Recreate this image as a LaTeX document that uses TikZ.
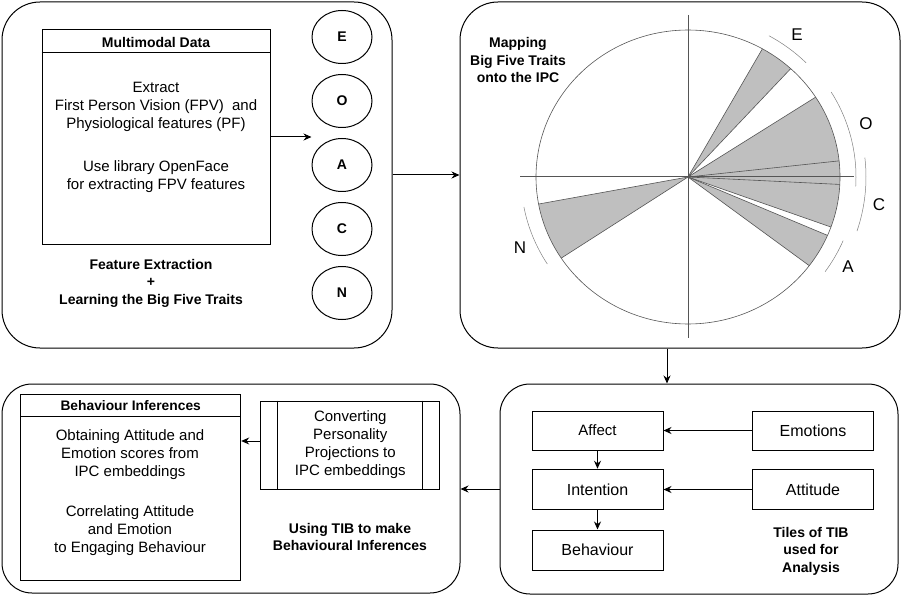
\documentclass[tikz,border=0pt]{standalone}
\usepackage{fontspec}
\setmainfont{Liberation Sans}
\usepackage{tikz}
\usetikzlibrary{arrows.meta, shapes.geometric}
\definecolor{wedgegray}{RGB}{191,191,191}
\definecolor{ipcline}{RGB}{85,85,85}

\begin{document}
\begin{tikzpicture}[x=1pt, y=-1pt, line width=1pt,
    panel/.style={draw, rounded corners=38pt, inner sep=0pt},
    lowpanel/.style={draw, rounded corners=30pt, inner sep=0pt},
    box/.style={draw, inner sep=0pt},
    trait/.style={draw, ellipse, minimum width=60pt, minimum height=53pt, inner sep=0pt, font=\bfseries\fontsize{14}{17}\selectfont},
    lbl/.style={align=center, font=\fontsize{15}{18}\selectfont},
    tiles/.style={box, font=\fontsize{16}{19}\selectfont},
    title/.style={align=center, font=\bfseries\fontsize{14}{17.5}\selectfont},
    ipclbl/.style={font=\fontsize{17}{20}\selectfont},
    arr/.style={-{Stealth[length=8pt,width=7pt]}}]
                \useasboundingbox (0,0) rectangle (902,596);
                \node[panel, minimum width=390pt, minimum height=346pt] (fe) at (197,175) {};
                \node[panel, minimum width=440pt, minimum height=346pt] (ipc) at (680,175) {};
                \node[lowpanel, minimum width=458pt, minimum height=209pt] (inf) at (231,488.5) {};
                \node[lowpanel, minimum width=398pt, minimum height=210pt] (tib) at (699,489) {};

                \node[box, lbl, minimum width=228pt, minimum height=214pt] (mmd) at (156,137) {Extract\\First Person Vision (FPV)\ \ and\\Physiological features (PF)\\[25pt]Use library OpenFace\\for extracting FPV features};
                \draw ([yshift=-23pt]mmd.north west) -- ([yshift=-23pt]mmd.north east);
                \node[title] (mmdt) at (156,42) {Multimodal Data};
                \foreach \t [count=\i] in {E,O,A,C,N}
                    \node[trait] (t\t) at (342,{37+64*(\i-1)}) {\t};
                \node[title] (fet) at (151,283) {Feature Extraction\\+\\Learning the Big Five Traits};
                \draw[arr] (mmd.east) -- (mmd.east -| tA.west);
                \draw[arr] (fe.east) -- (ipc.west);

                \coordinate (o) at (688,177);
                \begin{scope}[shift={(o)}, yscale=0.967]
                    \foreach \a/\b in {47.5/60.7, -2.9/32.9, -19.9/6.3, -37.1/-23.4, 190.6/213.5}
                        \fill[wedgegray] (0pt,0pt) -- (\a:152pt) arc[start angle=\a, end angle=\b, radius=152pt] -- cycle;
                    \foreach \a in {47.5, 60.7, -2.9, 32.9, -19.9, 6.3, -37.1, -23.4, 190.6, 213.5}
                        \draw[ipcline, line width=0.6pt] (0pt,0pt) -- (\a:152pt);
                    \draw[ipcline, line width=0.6pt] (0pt,0pt) circle[radius=152pt];
                    \foreach \a/\b/\r in {45/61/167, -3.3/31.5/168, -18.3/6.5/178, -35.5/-23/168.5, 190.7/212.6/167}
                        \draw[gray, line width=0.5pt] (\a:\r pt) arc[start angle=\a, end angle=\b, radius=\r pt];
                \end{scope}
                \draw[ipcline] (520,177) -- (854,177);
                \draw[ipcline] (688,15) -- (688,338);
                \node[ipclbl] (lE) at (797,35) {E};
                \node[ipclbl] (lO) at (866,124) {O};
                \node[ipclbl] (lC) at (879,205) {C};
                \node[ipclbl] (lA) at (848,267) {A};
                \node[ipclbl] (lN) at (520,248) {N};
                \node[title] (mapt) at (518,60) {Mapping\\Big Five Traits\\onto the IPC};
                \draw[arr] ([xshift=-13pt]ipc.south) -- ([xshift=-13pt]ipc.south |- tib.north);

                \node[tiles, minimum width=131pt, minimum height=39pt, font=\fontsize{15}{18}\selectfont] (aff) at (597.5,430.5) {Affect};
                \node[tiles, minimum width=131pt, minimum height=40.5pt] (int) at (597.5,489.5) {Intention};
                \node[tiles, minimum width=131pt, minimum height=40pt] (beh) at (597.5,550) {Behaviour};
                \node[tiles, minimum width=121pt, minimum height=39pt] (emo) at (813,430.5) {Emotions};
                \node[tiles, minimum width=121pt, minimum height=40.5pt] (att) at (813,489.5) {Attitude};
                \draw[arr] (emo) -- (aff);
                \draw[arr] (att) -- (int);
                \draw[arr] (aff) -- (int);
                \draw[arr] (int) -- (beh);
                \node[title] (tibt) at (811,551) {Tiles of TIB\\used for\\Analysis};
                \draw[arr] (tib.west) -- (tib.west -| inf.east);

                \node[box, minimum width=220pt, minimum height=186pt] (binf) at (130.7,487) {};
                \draw ([yshift=-22.7pt]binf.north west) -- ([yshift=-22.7pt]binf.north east);
                \node[title, font=\bfseries\fontsize{13.8}{16}\selectfont] (binft) at (130.7,405.5) {Behaviour Inferences};
                \node[lbl] (binfx) at (130,493) {Obtaining Attitude and\\Emotion scores from\\IPC embeddings\\[22pt]Correlating Attitude\\and Emotion\\to Engaging Behaviour};
                \node[box, lbl, minimum width=179pt, minimum height=88pt] (conv) at (350.3,445) {Converting\\Personality\\Projections to\\IPC embeddings};
                \draw ([xshift=17.5pt]conv.north west) -- ([xshift=17.5pt]conv.south west);
                \draw ([xshift=-17.5pt]conv.north east) -- ([xshift=-17.5pt]conv.south east);
                \draw[arr] ([yshift=4pt]conv.west) -- ([yshift=4pt]conv.west -| binf.east);
                \node[title] (tibu) at (350,537) {Using TIB to make\\Behavioural Inferences};
            \end{tikzpicture}
\end{document}
